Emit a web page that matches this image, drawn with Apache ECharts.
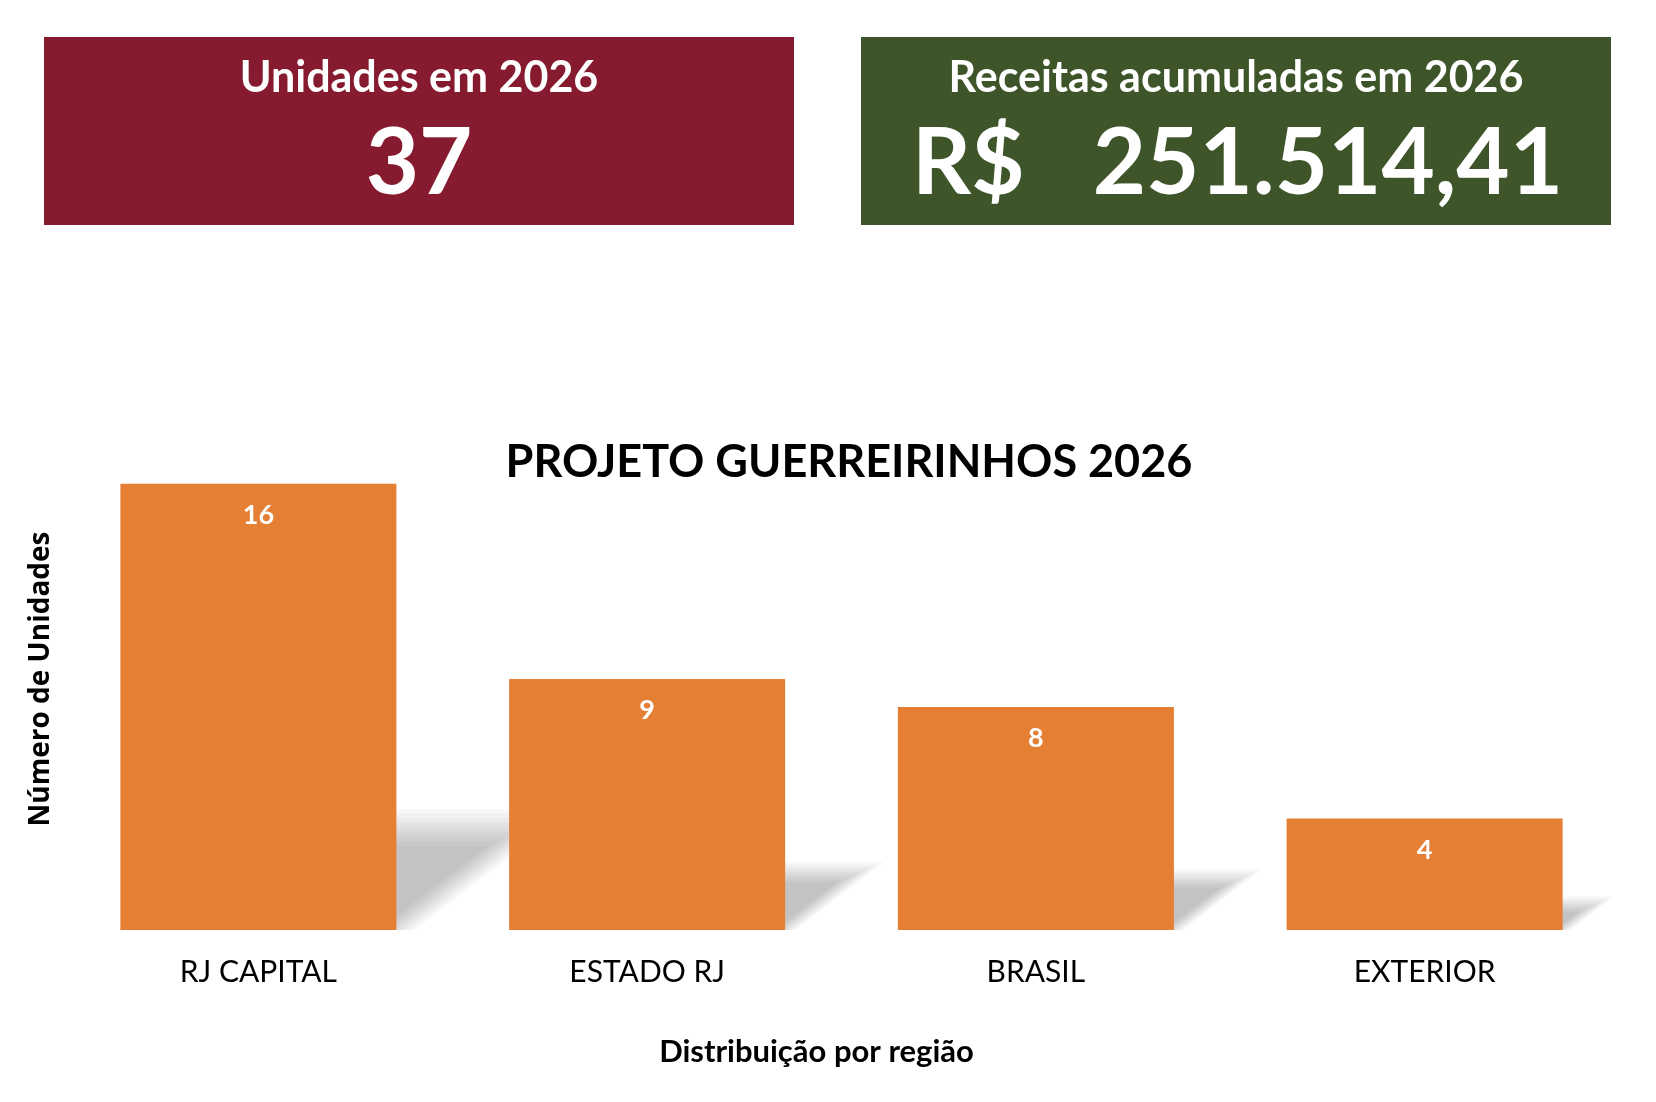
<!DOCTYPE html>
<html lang="pt-BR">
<head>
    <meta charset="UTF-8">
    <title>Projeto Guerreirinhos 2026</title>
    <script src="https://cdn.jsdelivr.net/npm/echarts@6/dist/echarts.min.js"></script>
    <style>
        html, body { margin: 0; padding: 0; background: #ffffff; }
        #main { width: 1656px; height: 1102px; }
    </style>
</head>
<body>
    <div id="main"></div>
    <script type="text/javascript">
        // dados do gráfico
        var regioes = ['RJ CAPITAL', 'ESTADO RJ', 'BRASIL', 'EXTERIOR'];
        var unidades = [16, 9, 8, 4];

        // cartões do topo
        var cardTitles = ['Unidades em 2026', 'Receitas acumuladas em 2026'];
        var receitaMoeda = 'R$';
        var receitaValor = '251.514,41';

        var totalUnidades = unidades.reduce(function (a, b) { return a + b; }, 0);

        var FONT = 'Lato, "Open Sans", sans-serif';
        var ORANGE = '#E47F33';

        var myChart = echarts.init(document.getElementById('main'));

        // sombra em perspectiva atrás de cada barra (camadas para simular o desfoque)
        function renderShadow(params, api) {
            var base = api.coord([api.value(0), 0]);
            var top = api.coord([api.value(0), api.value(1)]);
            var w = api.size([1, 0])[0] * 0.71;
            var h = (base[1] - top[1]) * 0.23;
            var xl = base[0] - w / 2, xr = base[0] + w / 2, y0 = base[1];
            var skew = 1.3;
            var d = Math.max(2, h * 0.045);
            var children = [];
            for (var k = -4; k <= 4; k++) {
                var hk = h - k * d;
                var xrk = xr - k * d;
                if (hk <= 0) continue;
                children.push({
                    type: 'polygon',
                    shape: { points: [[xl, y0], [xrk, y0], [xrk + hk * skew, y0 - hk], [xl + hk * skew, y0 - hk]] },
                    style: { fill: 'rgba(0,0,0,0.026)' }
                });
            }
            return { type: 'group', children: children };
        }

        option = {
            backgroundColor: '#ffffff',
            animation: false,
            title: {
                text: 'PROJETO GUERREIRINHOS 2026',
                left: 844,
                textAlign: 'center',
                top: 435,
                textStyle: { fontFamily: FONT, fontSize: 45, fontWeight: 'bold', color: '#000000' }
            },
            grid: { left: 64, right: 37, top: 428, bottom: 172, containLabel: false },
            xAxis: {
                type: 'category',
                data: regioes,
                axisLine: { show: false },
                axisTick: { show: false },
                axisLabel: { margin: 27, fontFamily: FONT, fontSize: 30, color: '#000000' },
                name: 'Distribuição por região',
                nameLocation: 'middle',
                nameGap: 106,
                nameTextStyle: { fontFamily: FONT, fontSize: 31, fontWeight: 'bold', color: '#000000', padding: [0, 50, 0, 0] }
            },
            yAxis: {
                type: 'value',
                min: 0,
                max: 18,
                interval: 2,
                axisLine: { show: false },
                axisTick: { show: false },
                axisLabel: { show: false },
                splitLine: { show: false },
                name: 'Número de Unidades',
                nameLocation: 'middle',
                nameGap: 9,
                nameTextStyle: { fontFamily: '"Open Sans", sans-serif', fontSize: 28, fontWeight: 'bold', color: '#000000' }
            },
            series: [
                {
                    type: 'custom',
                    renderItem: renderShadow,
                    data: unidades.map(function (v, i) { return [i, v]; }),
                    z: 1,
                    silent: true
                },
                {
                    type: 'bar',
                    data: unidades,
                    barWidth: '71%',
                    z: 3,
                    itemStyle: { color: ORANGE },
                    label: {
                        show: true,
                        position: 'insideTop',
                        distance: 18,
                        fontFamily: FONT,
                        fontSize: 27,
                        fontWeight: 'bold',
                        color: '#ffffff'
                    }
                }
            ],
            graphic: [
                { type: 'rect', shape: { x: 44, y: 37, width: 750, height: 188 }, style: { fill: '#861A2E' } },
                { type: 'rect', shape: { x: 861, y: 37, width: 750, height: 188 }, style: { fill: '#3E5429' } },
                {
                    type: 'text', x: 419, y: 78,
                    style: { text: cardTitles[0], fill: '#fff', fontFamily: FONT, fontSize: 43, fontWeight: 'bold', align: 'center', verticalAlign: 'middle' }
                },
                {
                    type: 'text', x: 419, y: 164,
                    style: { text: String(totalUnidades), fill: '#fff', fontFamily: FONT, fontSize: 92, fontWeight: 'bold', align: 'center', verticalAlign: 'middle' }
                },
                {
                    type: 'text', x: 1236, y: 78,
                    style: { text: cardTitles[1], fill: '#fff', fontFamily: FONT, fontSize: 43, fontWeight: 'bold', align: 'center', verticalAlign: 'middle' }
                },
                {
                    type: 'text', x: 912, y: 164,
                    style: { text: receitaMoeda, fill: '#fff', fontFamily: FONT, fontSize: 92, fontWeight: 'bold', align: 'left', verticalAlign: 'middle' }
                },
                {
                    type: 'text', x: 1563, y: 164,
                    style: { text: receitaValor, fill: '#fff', fontFamily: FONT, fontSize: 92, fontWeight: 'bold', align: 'right', verticalAlign: 'middle' }
                }
            ]
        };

        myChart.setOption(option);
    </script>
</body>
</html>
